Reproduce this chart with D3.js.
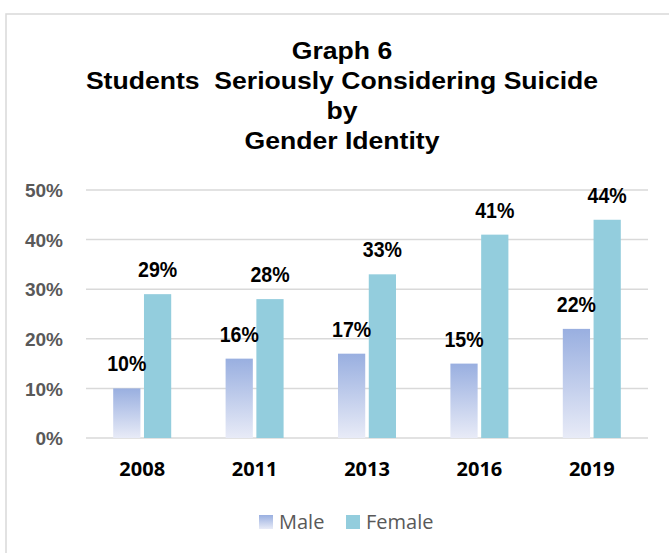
<!DOCTYPE html>
<html><head><meta charset="utf-8">
<script src="https://cdn.jsdelivr.net/npm/d3@7"></script>
<style>body{margin:0;background:#fff}svg{display:block}</style>
</head><body>
<script>
const titleLines = ["Graph 6", "Students  Seriously Considering Suicide", "by", "Gender Identity"];
const years = ["2008", "2011", "2013", "2016", "2019"];
const seriesNames = ["Male", "Female"];
const maleValues = [10, 16, 17, 15, 22];
const femaleValues = [29, 28, 33, 41, 44];
const yTicks = [0, 10, 20, 30, 40, 50];

const W = 669, H = 553;
const svg = d3.select("body").append("svg").attr("width", W).attr("height", H);

const defs = svg.append("defs");
const grad = defs.append("linearGradient").attr("id", "maleGrad").attr("x1", 0).attr("y1", 0).attr("x2", 0).attr("y2", 1);
grad.append("stop").attr("offset", "0%").attr("stop-color", "#99afe0");
grad.append("stop").attr("offset", "100%").attr("stop-color", "#e8ebf7");

// chart border
svg.append("rect").attr("x", 6).attr("y", 14).attr("width", W + 10).attr("height", H + 10)
  .attr("fill", "none").attr("stroke", "#d9d9d9").attr("stroke-width", 1.5);

// title
const tg = svg.append("g").attr("font-family", "'Liberation Sans', Arial, sans-serif")
  .attr("font-weight", "bold").attr("font-size", 24.5).attr("fill", "#000").attr("text-anchor", "middle")
  .style("white-space", "pre");
titleLines.forEach((t, i) => {
  tg.append("text").attr("transform", `translate(342,${58.5 + i * 30}) scale(1.085,1)`)
    .attr("xml:space", "preserve").style("white-space", "pre").text(t);
});

const x0 = d3.scaleBand().domain(years).range([86, 648]);
const x1 = d3.scaleBand().domain(seriesNames).range([x0.bandwidth() / 2 - 29, x0.bandwidth() / 2 + 29]).paddingInner(0.115);
const y = d3.scaleLinear().domain([0, 50]).range([438, 190]);

// gridlines
svg.append("g").selectAll("line").data(yTicks).join("line")
  .attr("x1", 86).attr("x2", 648)
  .attr("y1", d => y(d)).attr("y2", d => y(d))
  .attr("stroke", "#d9d9d9").attr("stroke-width", 1.5);

// y axis
const yAxis = d3.axisLeft(y).tickValues(yTicks).tickFormat(d => d + "%").tickSize(0).tickPadding(0);
const ya = svg.append("g").attr("transform", "translate(63,0)").call(yAxis);
ya.select(".domain").remove();
ya.selectAll("text").attr("font-family", "'Liberation Sans', Arial, sans-serif")
  .attr("font-weight", "bold").attr("font-size", 19).attr("fill", "#595959").attr("dy", "0.35em");

// x axis
const xAxis = d3.axisBottom(x0).tickSize(0).tickPadding(0);
const xa = svg.append("g").attr("transform", "translate(0,476)").call(xAxis);
xa.select(".domain").remove();
xa.selectAll("text").attr("font-family", "'Open Sans', sans-serif")
  .attr("font-weight", "bold").attr("font-size", 20).attr("fill", "#000").attr("dy", 0);

const data = years.map((yr, i) => ({year: yr, vals: [
  {s: "Male", v: maleValues[i]}, {s: "Female", v: femaleValues[i]}]}));

const groups = svg.append("g").selectAll("g").data(data).join("g")
  .attr("transform", d => `translate(${x0(d.year)},0)`);

groups.selectAll("rect").data(d => d.vals).join("rect")
  .attr("x", d => x1(d.s)).attr("width", x1.bandwidth())
  .attr("y", d => y(d.v)).attr("height", d => y(0) - y(d.v))
  .attr("fill", d => d.s === "Male" ? "url(#maleGrad)" : "#93cddd");

groups.selectAll("text.lbl").data(d => d.vals).join("text").attr("class", "lbl")
  .attr("transform", d => `translate(${x1(d.s) + x1.bandwidth() / 2},${y(d.v) - 17}) scale(0.89,1)`)
  .attr("text-anchor", "middle")
  .attr("font-family", "'Liberation Sans', Arial, sans-serif")
  .attr("font-weight", "bold").attr("font-size", 22).attr("fill", "#000")
  .text(d => d.v + "%");

// legend
const legend = svg.append("g").attr("font-family", "'Open Sans', sans-serif").attr("font-size", 20).attr("fill", "#595959");
const legX = [259, 346];
seriesNames.forEach((s, i) => {
  legend.append("rect").attr("x", legX[i]).attr("y", 515).attr("width", 14).attr("height", 14)
    .attr("fill", s === "Male" ? "url(#maleGrad)" : "#93cddd");
  legend.append("text").attr("x", legX[i] + 20).attr("y", 529).text(s);
});
</script>
</body></html>
